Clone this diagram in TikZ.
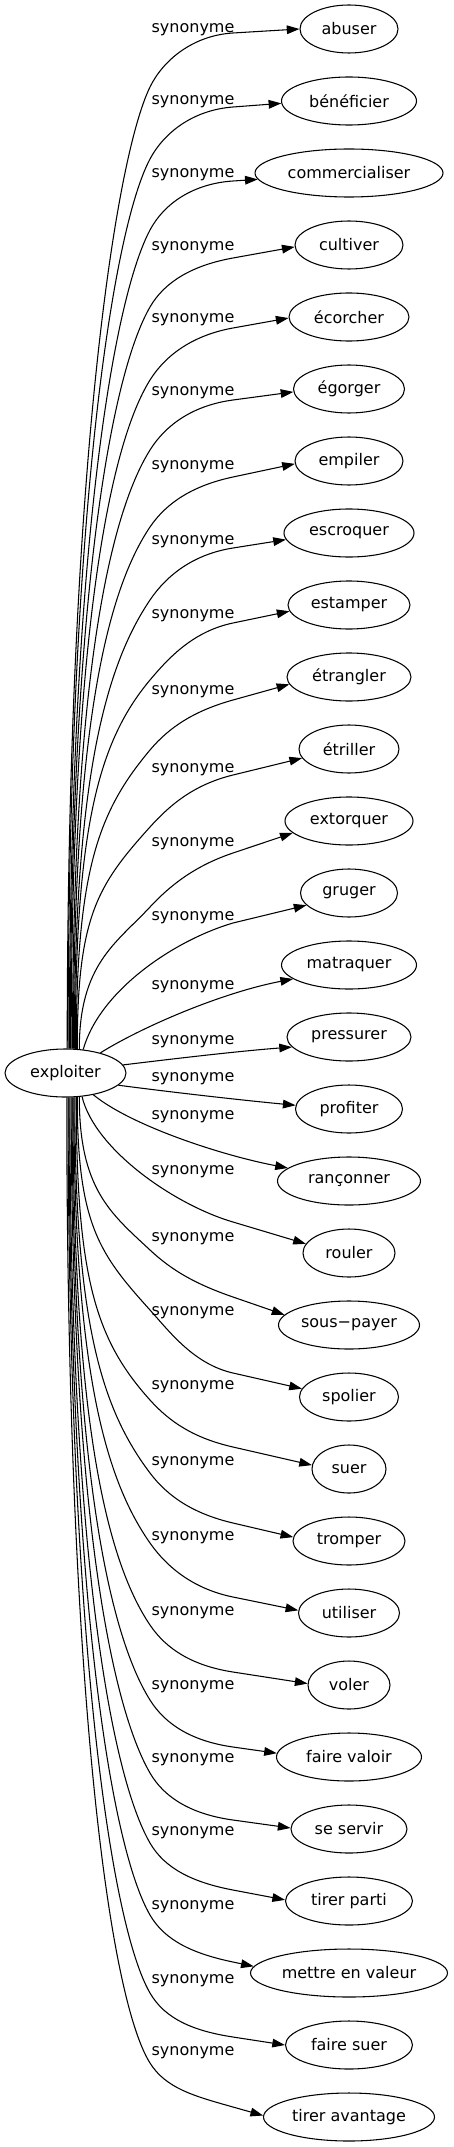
\documentclass[tikz,border=0pt]{standalone}
\usepackage{fontspec}
\setmainfont{DejaVu Sans}
\usetikzlibrary{shapes.geometric,arrows.meta,calc}
\newcommand\upE[8]{%
  \draw[syn] (ex.#2) .. controls +(0,-#3) and +(180-#5:#6) .. (150,#4)
    .. controls +(-#5:30) and ($(233,#7)!-30pt!(#1.#8)$) .. (233,#7) -- (#1.#8);}
\newcommand\loE[8]{%
  \draw[syn] (ex.#2) .. controls +(0,#3) and +(180+#5:#6) .. (150,#4)
    .. controls +(#5:30) and ($(233,#7)!-30pt!(#1.#8)$) .. (233,#7) -- (#1.#8);}
\begin{document}
\begin{tikzpicture}[x=0.75pt,y=-0.75pt,
  every node/.style={font=\fontsize{12pt}{14pt}\selectfont},
  tn/.style={ellipse,draw,line width=0.8pt,minimum height=36pt,minimum width=#1,inner sep=0pt},
  lab/.style={inner sep=0pt},
  syn/.style={draw,line width=0.8pt,-{Triangle[length=9.5pt,width=6.5pt]}}]
\useasboundingbox (0,0) rectangle (453,2147);
\node[tn=90.75pt] (ex) at (65.5,1073) {exploiter};
\node[tn=73.5pt] (abuser) at (349,29) {abuser};
\node[tn=101.25pt] (benef) at (349,101) {bénéficier};
\node[tn=141pt] (commerc) at (349,173) {commercialiser};
\node[tn=81pt] (cultiver) at (349,245) {cultiver};
\node[tn=90pt] (ecorcher) at (349,317) {écorcher};
\node[tn=83.25pt] (egorger) at (349,389) {égorger};
\node[tn=81pt] (empiler) at (349,461) {empiler};
\node[tn=97.5pt] (escroquer) at (349,533) {escroquer};
\node[tn=91.5pt] (estamper) at (349,605) {estamper};
\node[tn=93pt] (etrangler) at (349,677) {étrangler};
\node[tn=75pt] (etriller) at (349,749) {étriller};
\node[tn=96pt] (extorquer) at (349,821) {extorquer};
\node[tn=72.75pt] (gruger) at (349,893) {gruger};
\node[tn=101.25pt] (matraquer) at (349,965) {matraquer};
\node[tn=93pt] (pressurer) at (349,1037) {pressurer};
\node[tn=80.25pt] (profiter) at (349,1109) {profiter};
\node[tn=107.25pt] (ranconner) at (349,1181) {rançonner};
\node[tn=69pt] (rouler) at (349,1253) {rouler};
\node[tn=105.75pt] (souspayer) at (349,1325) {sous−payer};
\node[tn=74.25pt] (spolier) at (349,1397) {spolier};
\node[tn=55.5pt] (suer) at (349,1469) {suer};
\node[tn=84pt] (tromper) at (349,1541) {tromper};
\node[tn=75.75pt] (utiliser) at (349,1613) {utiliser};
\node[tn=61.5pt] (voler) at (349,1685) {voler};
\node[tn=108.75pt] (fairevaloir) at (349,1757) {faire valoir};
\node[tn=87pt] (seservir) at (349,1829) {se servir};
\node[tn=95.25pt] (tirerparti) at (349,1901) {tirer parti};
\node[tn=147.75pt] (mettre) at (349,1973) {mettre en valeur};
\node[tn=95.25pt] (fairesuer) at (349,2045) {faire suer};
\node[tn=128.25pt] (tireravantage) at (349,2117) {tirer avantage};
% labels
\foreach \i/\y in {0/30,1/102,2/175,3/248,4/320,5/393,6/467,7/542,8/616,9/692,10/770,11/844,12/918,13/987,14/1042,15/1079,16/1117,17/1172,18/1239,19/1313,20/1387,21/1463,22/1538,23/1613,24/1687,25/1760,26/1833,27/1907,28/1981,29/2053}
  \node[lab] (l\i) at (193,\y) {synonyme};
% upper edges
\upE{abuser}{86.4}{577}{87}{64}{80}{33}{180}
\upE{benef}{84}{534}{159}{62}{80}{107}{182}
\upE{commerc}{81.7}{491}{230}{62}{80}{181}{184}
\upE{cultiver}{79.4}{445}{307}{60}{80}{258}{182}
\upE{ecorcher}{77}{401}{380}{58}{80}{328}{181}
\upE{egorger}{74.8}{359}{450}{58}{80}{400}{183}
\upE{empiler}{72.5}{313}{527}{56}{80}{477}{183}
\upE{escroquer}{70.3}{269}{600}{56}{80}{548}{186}
\upE{estamper}{68.2}{221}{680}{50}{80}{623}{186}
\upE{etrangler}{66}{179}{750}{50}{80}{700}{187}
\upE{etriller}{64}{133}{827}{48}{78}{775}{191}
\upE{extorquer}{60}{85}{907}{47}{50}{853}{192}
\draw[syn] (ex.53) .. controls (100,990) and (175,940) .. (233,923) -- (gruger.196);
\draw[syn] (ex.30) .. controls (140,1028) and (220,993) .. (matraquer.194);
\draw[syn] (ex.8) .. controls (180,1058) and (240,1051) .. (pressurer.190);
\draw[syn] (ex.347) .. controls (170,1092) and (240,1100) .. (profiter.176);
\draw[syn] (ex.322) .. controls (130,1125) and (220,1155) .. (ranconner.168);
\draw[syn] (ex.305.5) .. controls (95,1150) and (175,1205) .. (233,1222) -- (rouler.168);
% lower edges
\loE{souspayer}{300}{92}{1250}{43}{54}{1297}{171}
\loE{spolier}{296}{128}{1310}{48}{75}{1373}{170}
\loE{suer}{294}{182}{1400}{48}{80}{1447}{174}
\loE{tromper}{291.8}{226}{1473}{53}{80}{1523}{176}
\loE{utiliser}{289.7}{268}{1543}{55}{80}{1597}{177}
\loE{voler}{287.5}{317}{1625}{56}{80}{1672}{178.5}
\loE{fairevaloir}{285.2}{362}{1700}{58}{80}{1747}{177}
\loE{seservir}{283}{406}{1773}{60}{80}{1820}{179}
\loE{tirerparti}{280.6}{448}{1843}{60}{80}{1890}{179}
\loE{mettre}{278.3}{491}{1915}{60}{80}{1962}{176.4}
\loE{fairesuer}{276}{538}{1993}{60}{80}{2037}{180}
\loE{tireravantage}{273.6}{580}{2063}{58}{80}{2107}{179}
\end{tikzpicture}
\end{document}
